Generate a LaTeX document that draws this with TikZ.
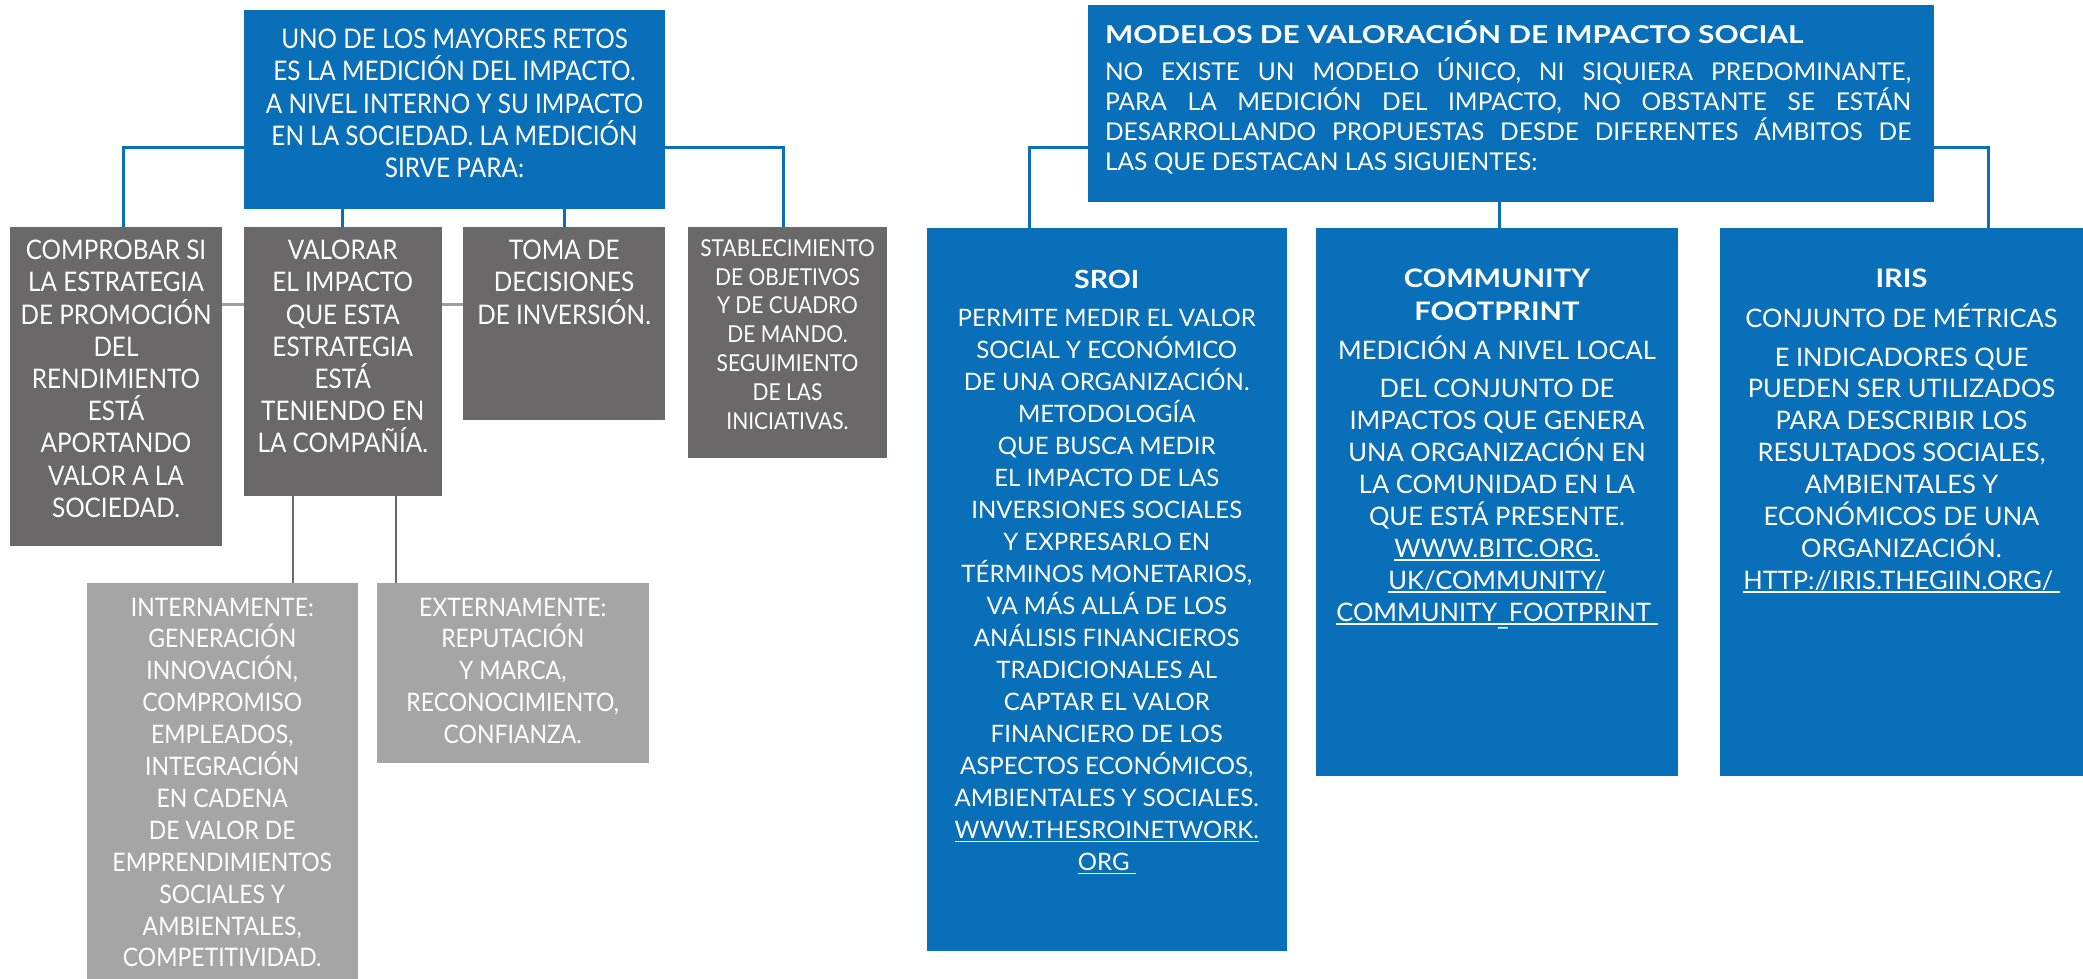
\documentclass[tikz,border=0pt]{standalone}
\usepackage{fontspec}
\setmainfont{Lato}
\newfontfamily\condf[FakeStretch=0.9]{Lato}
\newfontfamily\widef[FakeStretch=1.14]{Lato}
\newfontfamily\widerf[FakeStretch=1.215]{Lato}
\usetikzlibrary{backgrounds}
\definecolor{cblue}{HTML}{0A6FB9}
\definecolor{cdark}{HTML}{6B6869}
\definecolor{clight}{HTML}{A5A5A5}
\definecolor{cgline}{HTML}{9E9E9E}
\newcommand\cbox[4]{\parbox[c][#1][t]{#2}{\vspace*{\dimexpr#3-30pt\relax}\centering\rule{0pt}{30pt}#4}}
\newcommand\ulink[1]{\leavevmode\setbox0\hbox{#1}\rlap{\rule[-3.5pt]{\wd0}{1.6pt}}\box0}
\newcommand\lowus{\raisebox{-4pt}{\_}}
\newcommand\fL{\condf\fontsize{27}{32.2}\selectfont}
\newcommand\fM{\condf\fontsize{23.3}{28.8}\selectfont}
\newcommand\fS{\condf\fontsize{25.5}{31.9}\selectfont}
\tikzset{
  box/.style={inner sep=0pt, outer sep=0pt, anchor=north west, text=white},
  bluebox/.style={box, fill=cblue},
  darkbox/.style={box, fill=cdark},
  lightbox/.style={box, fill=clight},
  bline/.style={draw=cblue, line width=3pt},
  gline/.style={draw=cgline, line width=3pt},
  dline/.style={draw=cdark, line width=2pt}
}
\begin{document}
\begin{tikzpicture}[x=1pt, y=-1pt]
\useasboundingbox (0,0) rectangle (2083,979);
% left tree
\node[bluebox] (top1) at (244,10) {\cbox{199pt}{421pt}{38.8pt}{\fL UNO DE LOS MAYORES RETOS\\ ES LA MEDICIÓN DEL IMPACTO.\\ A NIVEL INTERNO Y SU IMPACTO\\ EN LA SOCIEDAD. LA MEDICIÓN\\ SIRVE PARA:}};
\node[darkbox] (b1) at (10,227) {\cbox{319pt}{212pt}{32.7pt}{\fL COMPROBAR SI\\ LA ESTRATEGIA\\ DE PROMOCIÓN\\ DEL\\ RENDIMIENTO\\ ESTÁ\\ APORTANDO\\ VALOR A LA\\ SOCIEDAD.}};
\node[darkbox] (b2) at (243.5,227) {\cbox{269pt}{198.5pt}{32.7pt}{\fL VALORAR\\ EL IMPACTO\\ QUE ESTA\\ ESTRATEGIA\\ ESTÁ\\ TENIENDO EN\\ LA COMPAÑÍA.}};
\node[darkbox] (b3) at (463.3,227) {\cbox{193pt}{201.7pt}{32.7pt}{\fL TOMA DE\\ DECISIONES\\ DE INVERSIÓN.}};
\node[darkbox] (b4) at (688,227) {\cbox{231pt}{199pt}{29.3pt}{\fM STABLECIMIENTO\\ DE OBJETIVOS\\ Y DE CUADRO\\ DE MANDO.\\ SEGUIMIENTO\\ DE LAS\\ INICIATIVAS.}};
\node[lightbox] (l1) at (86.5,583) {\cbox{396pt}{271.5pt}{33pt}{\fS INTERNAMENTE:\\ GENERACIÓN\\ INNOVACIÓN,\\ COMPROMISO\\ EMPLEADOS,\\ INTEGRACIÓN\\ EN CADENA\\ DE VALOR DE\\ EMPRENDIMIENTOS\\ SOCIALES Y\\ AMBIENTALES,\\ COMPETITIVIDAD.}};
\node[lightbox] (l2) at (377,583) {\cbox{180pt}{271.5pt}{33pt}{\fS EXTERNAMENTE:\\ REPUTACIÓN\\ Y MARCA,\\ RECONOCIMIENTO,\\ CONFIANZA.}};
% right tree
\node[bluebox] (topr) at (1088,5) {\parbox[c][197pt][t]{846pt}{\fontsize{24.5}{30.2}\selectfont\vspace*{8.5pt}\leftskip=17pt\noindent\rule{0pt}{30pt}{\widerf\bfseries\fontsize{24.6}{30.2}\selectfont MODELOS DE VALORACIÓN DE IMPACTO SOCIAL}\\[6.5pt]\makebox[806pt][s]{NO EXISTE UN MODELO ÚNICO, NI SIQUIERA PREDOMINANTE,}\\\makebox[806pt][s]{PARA LA MEDICIÓN DEL IMPACTO, NO OBSTANTE SE ESTÁN}\\\makebox[806pt][s]{DESARROLLANDO PROPUESTAS DESDE DIFERENTES ÁMBITOS DE}\\LAS QUE DESTACAN LAS SIGUIENTES:}};
\node[bluebox] (s1) at (926.5,228) {\cbox{723pt}{360.5pt}{60pt}{\fontsize{24}{32}\selectfont{\widef\bfseries\fontsize{25}{32}\selectfont SROI}\\[6.7pt] PERMITE MEDIR EL VALOR\\ SOCIAL Y ECONÓMICO\\ DE UNA ORGANIZACIÓN.\\ METODOLOGÍA\\ QUE BUSCA MEDIR\\ EL IMPACTO DE LAS\\ INVERSIONES SOCIALES\\ Y EXPRESARLO EN\\ TÉRMINOS MONETARIOS,\\ VA MÁS ALLÁ DE LOS\\ ANÁLISIS FINANCIEROS\\ TRADICIONALES AL\\ CAPTAR EL VALOR\\ FINANCIERO DE LOS\\ ASPECTOS ECONÓMICOS,\\ AMBIENTALES Y SOCIALES.\\ \ulink{WWW.THESROINETWORK.}\\ \ulink{ORG\ }}};
\node[bluebox] (s2) at (1316,228) {\cbox{548pt}{362pt}{59pt}{\fontsize{25.5}{32}\selectfont{\widef\bfseries COMMUNITY\\[1pt] FOOTPRINT}\\[7pt] MEDICIÓN A NIVEL LOCAL\\[6pt] DEL CONJUNTO DE\\ IMPACTOS QUE GENERA\\ UNA ORGANIZACIÓN EN\\ LA COMUNIDAD EN LA\\ QUE ESTÁ PRESENTE.\\ \ulink{WWW.BITC.ORG.}\\ \ulink{UK/COMMUNITY/}\\ \ulink{COMMUNITY\lowus FOOTPRINT\ }}};
\node[bluebox] (s3) at (1720,228) {\cbox{548pt}{363pt}{59pt}{\fontsize{25.5}{32}\selectfont{\widef\bfseries IRIS}\\[8pt] CONJUNTO DE MÉTRICAS\\[7pt] E INDICADORES QUE\\[-1pt] PUEDEN SER UTILIZADOS\\ PARA DESCRIBIR LOS\\ RESULTADOS SOCIALES,\\ AMBIENTALES Y\\ ECONÓMICOS DE UNA\\ ORGANIZACIÓN.\\ \ulink{HTTP://IRIS.THEGIIN.ORG/\ }}};
% connectors
\begin{scope}[on background layer]
\draw[bline] ([xshift=7.7pt]b1.north) |- ([yshift=61.4pt]top1.south west);
\draw[bline] ([yshift=61.4pt]top1.south east) -| ([xshift=-4.5pt]b4.north);
\draw[bline] (b2.north |- top1.south) -- (b2.north);
\draw[bline] (b3.north |- top1.south) -- (b3.north);
\draw[gline] ([yshift=-77.5pt]b1.north east) -- ([yshift=-77.5pt]b3.north west);
\draw[dline] ([xshift=-49.75pt]b2.south) -- ([xshift=-49.75pt]b2.south |- l1.north);
\draw[dline] ([xshift=53.25pt]b2.south) -- ([xshift=53.25pt]b2.south |- l2.north);
\draw[bline] ([xshift=-77.75pt]s1.north) |- ([xshift=86.5pt, yshift=80pt]s3.north) -- ([xshift=86.5pt]s3.north);
\draw[bline] ([xshift=2pt]s2.north |- topr.south) -- ([xshift=2pt]s2.north);
\end{scope}
\end{tikzpicture}
\end{document}
